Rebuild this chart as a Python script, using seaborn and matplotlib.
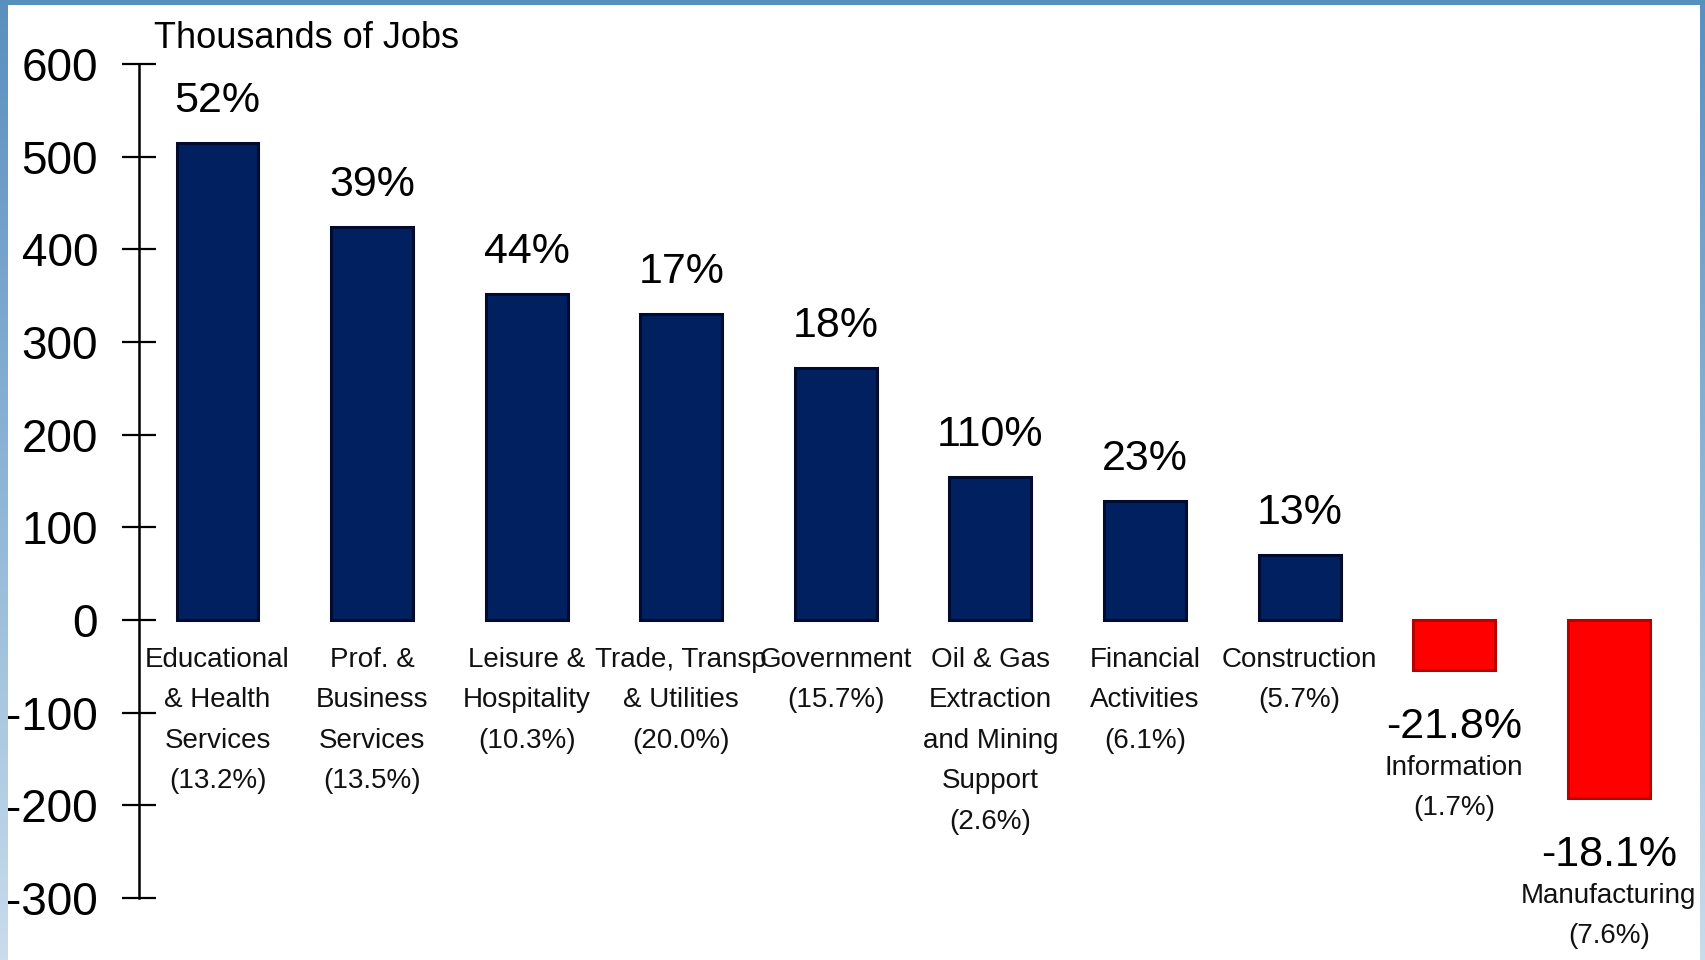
import numpy as np
import pandas as pd
import matplotlib
matplotlib.use("Agg")
import matplotlib.pyplot as plt
import seaborn as sns
from matplotlib.patches import Rectangle

# ---- data -----------------------------------------------------------------
sectors = [
    "Educational\n& Health\nServices\n(13.2%)",
    "Prof. &\nBusiness\nServices\n(13.5%)",
    "Leisure &\nHospitality\n(10.3%)",
    "Trade, Transp\n& Utilities\n(20.0%)",
    "Government\n(15.7%)",
    "Oil & Gas\nExtraction\nand Mining\nSupport\n(2.6%)",
    "Financial\nActivities\n(6.1%)",
    "Construction\n(5.7%)",
    "Information\n(1.7%)",
    "Manufacturing\n(7.6%)",
]
job_change = [515, 424, 352, 330, 272, 154, 128, 70, -54, -192]
pct_change = ["52%", "39%", "44%", "17%", "18%", "110%", "23%", "13%",
              "-21.8%", "-18.1%"]
y_ticks = [600, 500, 400, 300, 200, 100, 0, -100, -200, -300]
y_tick_labels = ["600", "500", "400", "300", "200", "100", "0",
                 "-100", "-200", "-300"]
axis_title = "Thousands of Jobs"

# ---- style ----------------------------------------------------------------
sns.set_theme(style="white")
FONT = ["Liberation Sans", "DejaVu Sans"]
plt.rcParams["font.family"] = FONT
plt.rcParams["axes.unicode_minus"] = False

NAVY, NAVY_EDGE = "#002060", "#000B2E"
RED, RED_EDGE = "#FF0000", "#B80000"
PCT_SIZE, CAT_SIZE, CAT_LS = 31, 20, 1.72

W, H = 1705, 960
fig = plt.figure(figsize=(W / 100, H / 100), dpi=100)
fig.patch.set_facecolor("white")

ax_left, ax_right, ax_top, ax_bot = 139, 1700, 64, 898
ax = fig.add_axes([ax_left / W, 1 - ax_bot / H,
                   (ax_right - ax_left) / W, (ax_bot - ax_top) / H])

df = pd.DataFrame({"sector": sectors, "change": job_change})
fills = [NAVY if v >= 0 else RED for v in job_change]
sns.barplot(data=df, x="sector", y="change", hue="sector", palette=fills,
            legend=False, width=0.53, saturation=1, ax=ax)

for patch, v in zip(ax.patches, job_change):
    patch.set_edgecolor(NAVY_EDGE if v >= 0 else RED_EDGE)
    patch.set_linewidth(2.2)

ax.set_ylim(-300, 600)
ax.set_xlim(-0.508, 9.59)
ax.set_xticks([])
ax.set_xlabel("")
ax.set_ylabel("")
ax.set_yticks(y_ticks)
ax.set_yticklabels(y_tick_labels)
ax.tick_params(axis="y", direction="inout", length=24, width=1.6,
               pad=17.5, labelsize=33, colors="black", left=True)
for side in ("top", "right", "bottom"):
    ax.spines[side].set_visible(False)
ax.spines["left"].set_linewidth(1.8)
ax.spines["left"].set_color("black")
ax.set_facecolor("white")

# ---- annotations ----------------------------------------------------------
for i, (v, pct, name) in enumerate(zip(job_change, pct_change, sectors)):
    if v >= 0:
        ax.annotate(pct, (i, v), xytext=(0, 31), textcoords="offset pixels",
                    ha="center", va="baseline", fontsize=PCT_SIZE,
                    color="black", annotation_clip=False)
        ax.annotate(name, (i, 0), xytext=(0, -27), textcoords="offset pixels",
                    ha="center", va="top", fontsize=CAT_SIZE, color="#111111",
                    linespacing=CAT_LS, annotation_clip=False)
    else:
        ax.annotate(pct, (i, v), xytext=(0, -68), textcoords="offset pixels",
                    ha="center", va="baseline", fontsize=PCT_SIZE,
                    color="black", annotation_clip=False)
        ax.annotate(name, (i, v), xytext=(0, -85), textcoords="offset pixels",
                    ha="center", va="top", fontsize=CAT_SIZE, color="#111111",
                    linespacing=CAT_LS, annotation_clip=False)

fig.text(154 / W, 1 - 38 / H, axis_title, ha="left", va="center",
         fontsize=26, color="black")

# ---- frame bands ----------------------------------------------------------
grad = np.linspace(0, 1, 256).reshape(-1, 1)
band_cmap = matplotlib.colors.LinearSegmentedColormap.from_list(
    "band", ["#5A8FBE", "#8DB5D6", "#C9DCEC"])
left_band = fig.add_axes([0, 0, 8 / W, 1])
left_band.imshow(grad, aspect="auto", cmap=band_cmap)
left_band.axis("off")
right_band = fig.add_axes([1 - 5 / W, 0, 5 / W, 1])
right_band.imshow(grad, aspect="auto", cmap=band_cmap)
right_band.axis("off")
fig.add_artist(Rectangle((0, 1 - 5 / H), 1, 5 / H, transform=fig.transFigure,
                         facecolor="#5590BE", edgecolor="none"))

fig.savefig("out.png", dpi=100)
